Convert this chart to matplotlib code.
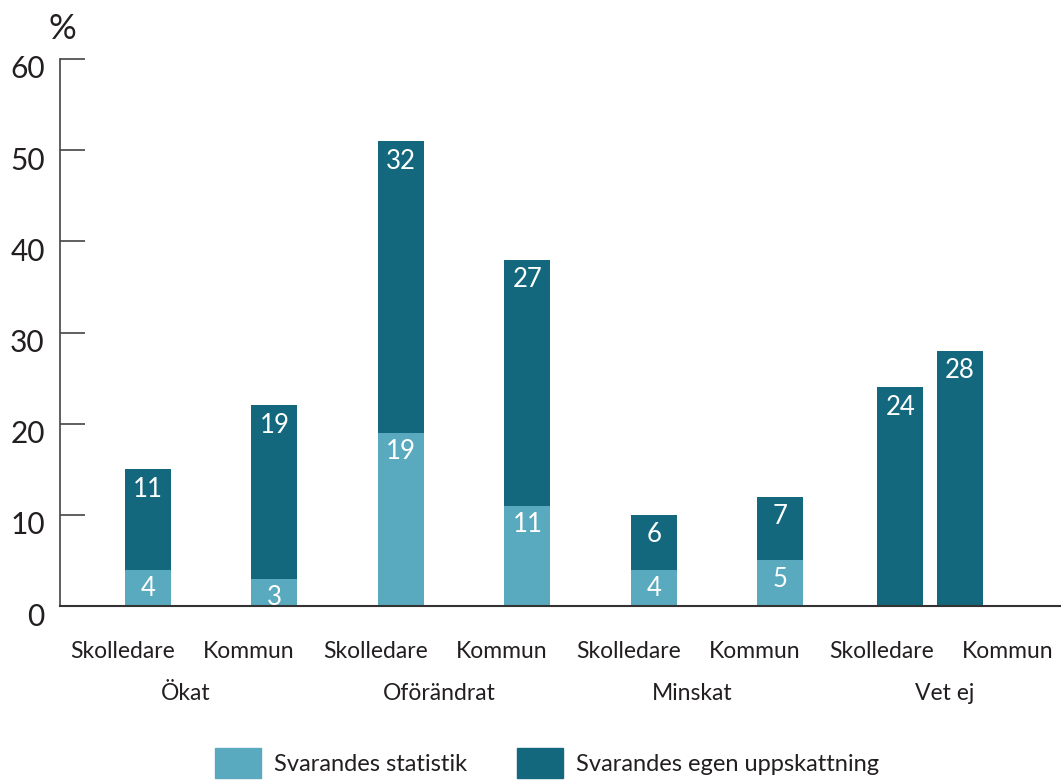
import matplotlib.pyplot as plt
import matplotlib.transforms as mtransforms
from matplotlib.patches import Patch

plt.rcParams['font.family'] = ['Lato', 'DejaVu Sans']

# Data
groups = ["Ökat", "Oförändrat", "Minskat", "Vet ej"]
sub_labels = ["Skolledare", "Kommun"] * 4
statistik = [4, 3, 19, 11, 4, 5, 0, 0]
egen = [11, 19, 32, 27, 6, 7, 24, 28]

# Layout (slot positions of the bars, Vet ej bars sit closer together)
bar_x = [0, 1, 2, 3, 4, 5, 5.95, 6.42]
label_x = [i - 0.2 for i in range(8)]
bar_w = 0.364

light = "#59a9bf"
dark = "#13687e"
text_col = "#231f20"

fig = plt.figure(figsize=(10.61, 7.81), dpi=100)
ax = fig.add_axes([60 / 1061, 175 / 781, 1001 / 1061, 547 / 781])

ax.bar(bar_x, statistik, width=bar_w, color=light, linewidth=0)
ax.bar(bar_x, egen, width=bar_w, bottom=statistik, color=dark, linewidth=0)

for x, s, e in zip(bar_x, statistik, egen):
    if s > 0:
        ax.annotate(str(s), (x, s), xytext=(0, -13.5), textcoords="offset points",
                    ha="center", va="center", color="white", fontsize=18.5)
    ax.annotate(str(e), (x, s + e), xytext=(0, -14.5), textcoords="offset points",
                ha="center", va="center", color="white", fontsize=18.5)

ax.set_xlim(-0.696, 7.22)
ax.set_ylim(0, 60)
ax.set_yticks(range(0, 61, 10))
ax.tick_params(axis="y", direction="in", length=18, width=1.2, color="#444444",
               pad=11, labelsize=21.5, labelcolor=text_col)
# nudge y tick labels down a little like the original
offset = mtransforms.ScaledTranslation(0, -8 / 100, fig.dpi_scale_trans)
for lab in ax.get_yticklabels():
    lab.set_transform(lab.get_transform() + offset)

ax.set_xticks(label_x)
ax.set_xticklabels(sub_labels)
ax.tick_params(axis="x", length=0, pad=25, labelsize=16.5, labelcolor=text_col)

trans = mtransforms.blended_transform_factory(ax.transData, fig.transFigure)
for i, g in enumerate(groups):
    gx = (label_x[2 * i] + label_x[2 * i + 1]) / 2
    ax.text(gx, 1 - 694 / 781, g, transform=trans, ha="center", va="center",
            fontsize=16.5, color=text_col)

ax.spines["top"].set_visible(False)
ax.spines["right"].set_visible(False)
ax.spines["left"].set_color("#444444")
ax.spines["left"].set_linewidth(1.2)
ax.spines["bottom"].set_color("#333333")
ax.spines["bottom"].set_linewidth(1.5)

fig.text(62 / 1061, 1 - 29 / 781, "%", ha="center", va="center",
         fontsize=25, color=text_col)

handles = [Patch(color=light, label="Svarandes statistik"),
           Patch(color=dark, label="Svarandes egen uppskattning")]
fig.legend(handles=handles, loc="center", bbox_to_anchor=(547 / 1061, 1 - 763 / 781),
           ncol=2, frameon=False, fontsize=17, handlelength=1.95, handleheight=1.53,
           handletextpad=0.55, columnspacing=2.1, borderpad=0, labelcolor=text_col)

fig.savefig("out.png", dpi=100)
